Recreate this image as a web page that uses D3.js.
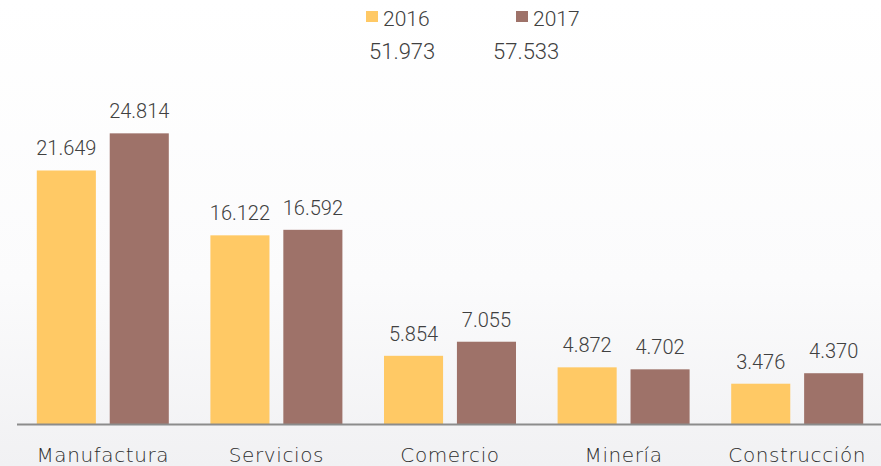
<!DOCTYPE html>
<html><head><meta charset="utf-8">
<script src="https://cdn.jsdelivr.net/npm/d3@7"></script>
<style>html,body{margin:0;padding:0;background:#fff;}svg{display:block;}</style>
</head><body>
<script>
const categories = ["Manufactura","Servicios","Comercio","Minería","Construcción"];
const seriesNames = ["2016","2017"];
const values2016 = [21.649,16.122,5.854,4.872,3.476];
const values2017 = [24.814,16.592,7.055,4.702,4.370];
const totals = ["51.973","57.533"];
const colors = ["#FFC965","#9E7269"];

const W=881,H=466;
const svg=d3.select("body").append("svg").attr("width",W).attr("height",H);
const defs=svg.append("defs");
const g=defs.append("linearGradient").attr("id","bg").attr("x1",0).attr("y1",0).attr("x2",0).attr("y2",1);
g.append("stop").attr("offset","0%").attr("stop-color","#ffffff");
g.append("stop").attr("offset","60%").attr("stop-color","#fbfbfc");
g.append("stop").attr("offset","100%").attr("stop-color","#f1f1f3");
svg.append("rect").attr("width",W).attr("height",H).attr("fill","url(#bg)");

const x=d3.scaleBand().domain(categories).range([16,884]).paddingInner(0).paddingOuter(0);
const x1=d3.scaleBand().domain(seriesNames).range([x.bandwidth()/2-66,x.bandwidth()/2+66]).paddingInner(0.19);
const y=d3.scaleLinear().domain([0,30]).range([424.5,72.5]);

const data=categories.map((c,i)=>({cat:c,vals:[values2016[i],values2017[i]]}));
const groups=svg.append("g").selectAll("g").data(data).join("g").attr("transform",d=>`translate(${x(d.cat)},0)`);
groups.selectAll("rect").data(d=>d.vals.map((v,j)=>({s:seriesNames[j],v,j}))).join("rect")
  .attr("x",d=>x1(d.s)).attr("width",x1.bandwidth())
  .attr("y",d=>y(d.v)).attr("height",d=>y(0)-y(d.v)).attr("fill",d=>colors[d.j]);
groups.selectAll("text.val").data(d=>d.vals.map((v,j)=>({s:seriesNames[j],v,j}))).join("text")
  .attr("class","val").attr("x",d=>x1(d.s)+x1.bandwidth()/2).attr("y",d=>y(d.v)-15)
  .attr("text-anchor","middle").attr("font-family","Roboto").attr("font-weight",300).attr("font-size",20).attr("fill","#404040")
  .text(d=>d3.format(".3f")(d.v));

// axis
const axis=svg.append("g").attr("transform",`translate(0,${y(0)})`).call(d3.axisBottom(x).tickSize(0).tickPadding(0));
axis.select(".domain").attr("d","M17,0H881").attr("stroke","#8c8c8c").attr("stroke-width",2);
axis.selectAll(".tick text").attr("y",37).attr("dy",0).attr("font-family","DejaVu Sans").attr("font-weight",200).attr("font-size",20)
  .attr("letter-spacing","0.6px").attr("fill","#2e2e2e");

// legend
const lg=svg.append("g");
const legX=[366,516];
seriesNames.forEach((s,i)=>{
  lg.append("rect").attr("x",legX[i]).attr("y",11).attr("width",12).attr("height",11).attr("fill",colors[i]);
  lg.append("text").attr("x",legX[i]+17).attr("y",26).attr("font-family","Roboto").attr("font-weight",300).attr("font-size",21).attr("fill","#404040").text(s);
});
const totX=[369,493];
totals.forEach((t,i)=>{
  lg.append("text").attr("x",totX[i]).attr("y",59).attr("font-family","Roboto").attr("font-weight",300).attr("font-size",22).attr("fill","#404040").text(t);
});
</script>
</body></html>
